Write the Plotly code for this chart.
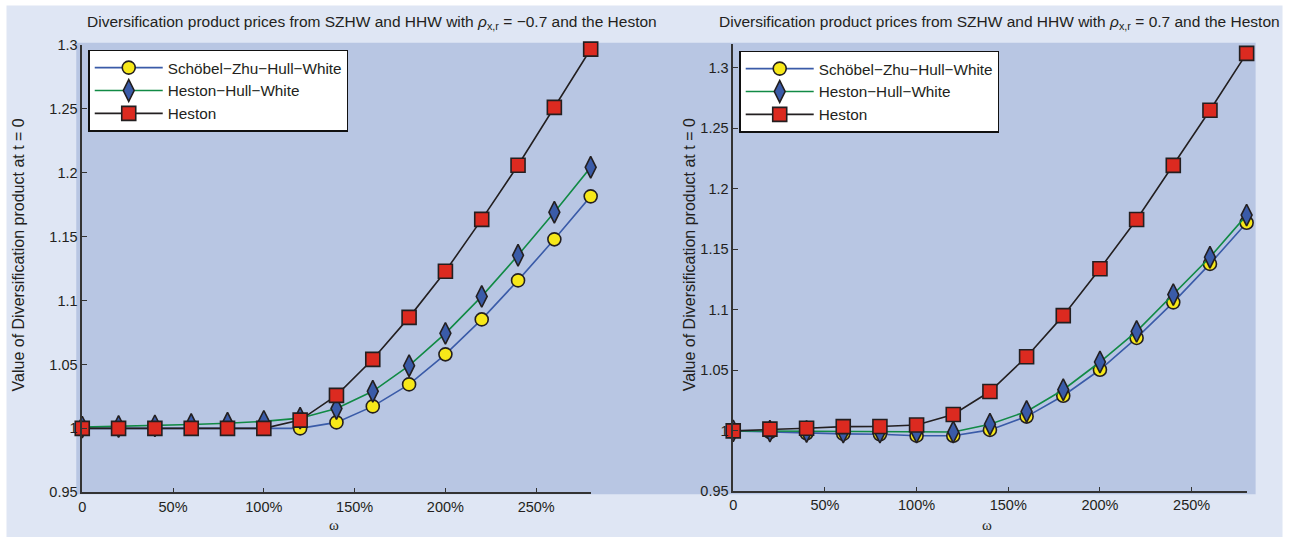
import plotly.graph_objects as go

W, H = 1290, 537

omega = [0.0, 0.2, 0.4, 0.6, 0.8, 1.0, 1.2, 1.4, 1.6, 1.8, 2.0, 2.2, 2.4, 2.6, 2.8]

# Left panel: rho_{x,r} = -0.7
szhw_left = [1.000, 1.000, 1.000, 1.000, 1.000, 1.000, 1.000, 1.0047, 1.0172, 1.0344,
             1.0579, 1.0852, 1.1157, 1.1478, 1.1814]
hhw_left = [1.001, 1.0015, 1.002, 1.003, 1.004, 1.0055, 1.008, 1.0155, 1.029, 1.049,
            1.0743, 1.1032, 1.1353, 1.169, 1.2041]
heston_left = [1.000, 1.000, 1.000, 1.000, 1.000, 1.000, 1.0065, 1.0258, 1.054, 1.0868,
               1.1228, 1.1634, 1.2057, 1.251, 1.2965]

# Right panel: rho_{x,r} = 0.7
szhw_right = [1.000, 0.999, 0.998, 0.9975, 0.9972, 0.996, 0.9959, 1.0008, 1.0118, 1.029,
              1.0505, 1.0768, 1.1062, 1.138, 1.172]
hhw_right = [1.000, 0.9998, 0.9995, 0.999, 0.999, 0.999, 0.999, 1.0055, 1.016, 1.034,
             1.0569, 1.0822, 1.1126, 1.1435, 1.1783]
heston_right = [1.000, 1.0014, 1.0022, 1.0035, 1.0036, 1.0048, 1.0135, 1.0325, 1.0613, 1.0952,
                1.134, 1.1747, 1.2194, 1.265, 1.312]

series_names = ["Schöbel−Zhu−Hull−White", "Heston−Hull−White", "Heston"]

x_tickvals = [0, 0.5, 1.0, 1.5, 2.0, 2.5]
x_ticktext = ["0", "50%", "100%", "150%", "200%", "250%"]
y_tickvals = [0.95, 1.0, 1.05, 1.1, 1.15, 1.2, 1.25, 1.3]
y_ticktext = ["0.95", "1", "1.05", "1.1", "1.15", "1.2", "1.25", "1.3"]

title_left = "Diversification product prices from SZHW and HHW with <i>ρ</i><sub>x,r</sub> = −0.7 and the Heston"
title_right = "Diversification product prices from SZHW and HHW with <i>ρ</i><sub>x,r</sub> = 0.7 and the Heston"
ylabel = "Value of Diversification product at t = 0"
xlabel = "ω"

DARK = "#231f20"
styles = [
    dict(line=dict(color="#3a5ba8", width=1.6),
         marker=dict(symbol="circle", size=13, color="#f7e819", line=dict(color=DARK, width=1.6))),
    dict(line=dict(color="#118a45", width=1.6),
         marker=dict(symbol="diamond-tall", size=15.5, color="#3a5ba8", line=dict(color=DARK, width=1.6))),
    dict(line=dict(color=DARK, width=1.6),
         marker=dict(symbol="square", size=14, color="#dc2a20", line=dict(color=DARK, width=1.6))),
]

fig = go.Figure()
panels = [
    ("x", "y", "legend", [szhw_left, hhw_left, heston_left]),
    ("x2", "y2", "legend2", [szhw_right, hhw_right, heston_right]),
]
for xa, ya, lg, data in panels:
    for name, vals, st in zip(series_names, data, styles):
        fig.add_trace(go.Scatter(
            x=omega, y=vals, name=name, mode="lines+markers",
            xaxis=xa, yaxis=ya, legend=lg, cliponaxis=False,
            line=st["line"], marker=st["marker"],
        ))

# pixel -> paper helpers (with a small correction for how the page is captured)
def px_x(p):
    return (p - 2.5) / W

def px_y(p):
    return 1 - ((p - 8.4) / 0.9687) / H

axis_common = dict(
    showline=True, linecolor="#333333", linewidth=1.5,
    ticks="inside", ticklen=5, tickwidth=1.2, tickcolor="#333333",
    showgrid=False, zeroline=False, mirror=False,
    tickfont=dict(family="Liberation Sans, Arial, sans-serif", size=14.5, color=DARK),
)

legend_common = dict(
    xanchor="left", yanchor="top",
    bgcolor="#ffffff", bordercolor="#111111", borderwidth=1.5,
    font=dict(size=15.3, color=DARK), itemwidth=68, tracegroupgap=0,
)

fig.update_layout(
    width=W, height=H,
    margin=dict(l=0, r=0, t=0, b=0),
    paper_bgcolor="#ffffff",
    plot_bgcolor="rgba(0,0,0,0)",
    font=dict(family="Liberation Sans, Arial, sans-serif", color=DARK),
    xaxis=dict(domain=[px_x(81), px_x(591)], range=[0, 2.8], anchor="y",
               tickvals=x_tickvals, ticktext=x_ticktext, **axis_common),
    yaxis=dict(domain=[px_y(492), px_y(45)], range=[0.95, 1.3], anchor="x",
               tickvals=y_tickvals, ticktext=y_ticktext, **axis_common),
    xaxis2=dict(domain=[px_x(734), px_x(1249)], range=[0, 2.8], anchor="y2",
                tickvals=x_tickvals, ticktext=x_ticktext, **axis_common),
    yaxis2=dict(domain=[px_y(491), px_y(44)], range=[0.95, 1.32], anchor="x2",
                tickvals=y_tickvals, ticktext=y_ticktext, **axis_common),
    legend=dict(x=px_x(87), y=px_y(50), **legend_common),
    legend2=dict(x=px_x(740), y=px_y(51), **legend_common),
    shapes=[
        dict(type="rect", xref="paper", yref="paper", layer="below",
             x0=px_x(5), x1=px_x(1285), y0=-0.05, y1=px_y(6),
             fillcolor="#dfe6f4", line=dict(width=0)),
        dict(type="rect", xref="paper", yref="paper", layer="below",
             x0=px_x(75), x1=px_x(1258), y0=px_y(494), y1=px_y(43),
             fillcolor="#b8c6e3", line=dict(width=0)),
    ],
)

annotations = [
    dict(text=title_left, x=px_x(84), y=px_y(22.7), xanchor="left", yanchor="middle",
         font=dict(size=15.5, color=DARK)),
    dict(text=title_right, x=px_x(718), y=px_y(22.7), xanchor="left", yanchor="middle",
         font=dict(size=15.5, color=DARK)),
    dict(text=ylabel, x=px_x(18), y=px_y(255), textangle=-90, xanchor="center", yanchor="middle",
         font=dict(size=16, color=DARK)),
    dict(text=ylabel, x=px_x(691), y=px_y(255), textangle=-90, xanchor="center", yanchor="middle",
         font=dict(size=16, color=DARK)),
    dict(text=xlabel, x=px_x(334), y=1 - 533 / H, xanchor="center", yanchor="middle",
         font=dict(family="Liberation Serif, Times New Roman, serif", size=15, color=DARK)),
    dict(text=xlabel, x=px_x(989), y=1 - 533 / H, xanchor="center", yanchor="middle",
         font=dict(family="Liberation Serif, Times New Roman, serif", size=15, color=DARK)),
]
for a in annotations:
    a.update(xref="paper", yref="paper", showarrow=False)
fig.update_layout(annotations=annotations)

post = (
    "document.documentElement.style.margin='0';"
    "document.documentElement.style.overflow='hidden';"
    "document.body.style.margin='0';document.body.style.padding='0';"
    "document.body.style.overflow='hidden';"
    "var gd=document.querySelector('.plotly-graph-div');"
    "if(gd){gd.style.position='fixed';gd.style.left='0px';gd.style.top='0px';}"
)

fig.write_html("out.html", config={"displayModeBar": False}, post_script=post)
